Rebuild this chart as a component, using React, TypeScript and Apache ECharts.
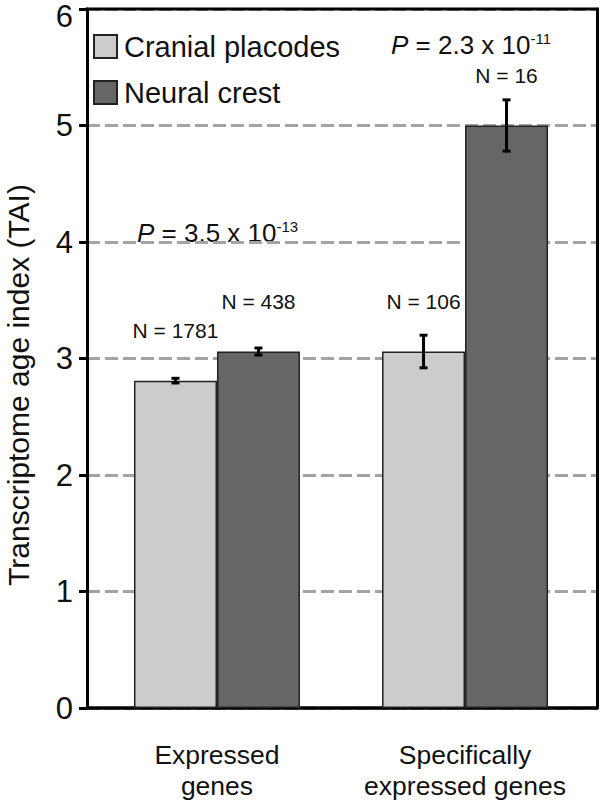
import React, { useEffect, useRef } from "react";
import * as echarts from "echarts";

// ---- data ----
const categories = ["Expressed\ngenes", "Specifically\nexpressed genes"];
const seriesNames = ["Cranial placodes", "Neural crest"];
const placodeMeans = [2.81, 3.06];
const placodeErrors = [0.02, 0.14];
const crestMeans = [3.06, 5.0];
const crestErrors = [0.03, 0.22];
const placodeCounts = [1781, 106];
const crestCounts = [438, 16];
const yTicks = [0, 1, 2, 3, 4, 5, 6];
const pValues = [
  { mantissa: "3.5", exponent: "-13" },
  { mantissa: "2.3", exponent: "-11" },
];

// annotation heights (axis units) where the N labels sit
const placodeLabelLevel = [3.24, 3.49];
const crestLabelLevel = [3.49, 5.43];

// layout
const FONT = "'Liberation Sans', Arial, Helvetica, sans-serif";
const BAR_W = 83;
const LIGHT = "#cccccc";
const DARK = "#666666";
const G_LEFT = 87;
const G_RIGHT = 3;
const G_TOP = 9;
const G_BOTTOM = 89;
const X_MIN = -0.524;
const X_MAX = 1.532;

export default function App() {
  const ref = useRef<HTMLDivElement>(null);

  useEffect(() => {
    if (!ref.current) return;
    const chart = echarts.init(ref.current, null, { renderer: "svg" });

    const catIdx = categories.map((_, i) => i);
    const errData: any[] = [];
    catIdx.forEach((i) => {
      errData.push([i, placodeMeans[i], placodeErrors[i], -1, placodeCounts[i], placodeLabelLevel[i]]);
      errData.push([i, crestMeans[i], crestErrors[i], 1, crestCounts[i], crestLabelLevel[i]]);
    });

    const pText = (p: { mantissa: string; exponent: string }) =>
      `{i|P}{m| = ${p.mantissa} x 10}{s|${p.exponent}}`;
    const pRich = {
      i: { fontStyle: "italic", fontSize: 26, fontFamily: FONT, fill: "#111", lineHeight: 28 },
      m: { fontSize: 26, fontFamily: FONT, fill: "#111", lineHeight: 28 },
      s: { fontSize: 15, fontFamily: FONT, fill: "#111", verticalAlign: "top", lineHeight: 28 },
    };
    const yMax = yTicks[yTicks.length - 1];

    chart.setOption({
      animation: false,
      backgroundColor: "#ffffff",
      grid: { left: G_LEFT, right: G_RIGHT, top: G_TOP, bottom: G_BOTTOM, containLabel: false },
      legend: {
        data: seriesNames,
        orient: "vertical",
        left: 88,
        top: 27,
        padding: 5,
        itemWidth: 23,
        itemHeight: 23,
        itemGap: 17,
        icon: "rect",
        textStyle: { fontSize: 29, fontFamily: FONT, color: "#111", lineHeight: 28, padding: [0, 0, 0, 2] },
      },
      xAxis: {
        type: "value",
        min: X_MIN,
        max: X_MAX,
        axisLine: { show: true, onZero: false, lineStyle: { color: "#000", width: 3.5 } },
        axisTick: { show: false },
        splitLine: { show: false },
        axisLabel: {
          customValues: catIdx,
          formatter: (v: number) => categories[Math.round(v)] ?? "",
          fontSize: 26.5,
          fontFamily: FONT,
          color: "#111",
          lineHeight: 31,
          margin: 31,
        },
      },
      yAxis: [
        {
          type: "value",
          min: yTicks[0],
          max: yMax,
          interval: 1,
          axisLine: { show: true, onZero: false, lineStyle: { color: "#000", width: 3 } },
          axisTick: { show: true, length: 8, lineStyle: { color: "#000", width: 3 } },
          axisLabel: {
            fontSize: 31,
            fontFamily: FONT,
            color: "#111",
            margin: 14,
            formatter: (v: number) => (v === yMax ? "" : `${v}`),
          },
          splitLine: { show: true, lineStyle: { color: "#a3a3a3", width: 3, type: [13, 5] } },
        },
        {
          type: "value",
          position: "right",
          min: yTicks[0],
          max: yMax,
          interval: 1,
          axisLine: { show: true, onZero: false, lineStyle: { color: "#000", width: 3 } },
          axisTick: { show: false },
          axisLabel: { show: false },
          splitLine: { show: false },
        },
      ],
      series: [
        {
          name: seriesNames[0],
          type: "bar",
          data: catIdx.map((i) => [i, placodeMeans[i]]),
          barWidth: BAR_W,
          barGap: "0%",
          itemStyle: { color: LIGHT, borderColor: "#222", borderWidth: 1.5 },
          z: 2,
        },
        {
          name: seriesNames[1],
          type: "bar",
          data: catIdx.map((i) => [i, crestMeans[i]]),
          barWidth: BAR_W,
          barGap: "0%",
          itemStyle: { color: DARK, borderColor: "#222", borderWidth: 1.5 },
          z: 2,
        },
        {
          type: "custom",
          name: "errors",
          z: 5,
          data: errData,
          renderItem: (params: any, api: any) => {
            const cat = api.value(0);
            const mean = api.value(1);
            const err = api.value(2);
            const side = api.value(3);
            const n = api.value(4);
            const level = api.value(5);
            const center = api.coord([cat, mean]);
            const x = center[0] + (side * BAR_W) / 2;
            const yHi = api.coord([cat, mean + err])[1];
            const yLo = api.coord([cat, mean - err])[1];
            const yLab = api.coord([cat, level])[1];
            const cap = 4;
            const ls = { stroke: "#000", lineWidth: 3 };
            return {
              type: "group",
              children: [
                { type: "line", shape: { x1: x, y1: yHi, x2: x, y2: yLo }, style: ls },
                { type: "line", shape: { x1: x - cap, y1: yHi, x2: x + cap, y2: yHi }, style: ls },
                { type: "line", shape: { x1: x - cap, y1: yLo, x2: x + cap, y2: yLo }, style: ls },
                {
                  type: "text",
                  x: x,
                  y: yLab,
                  style: {
                    text: `N = ${n}`,
                    fontSize: 21,
                    fontFamily: FONT,
                    fill: "#111",
                    align: "center",
                    verticalAlign: "middle",
                  },
                },
              ],
            };
          },
        },
      ],
      graphic: [
        {
          type: "line",
          z: 100,
          shape: { x1: G_LEFT - 1.5, y1: G_TOP, x2: 600 - G_RIGHT + 1.5, y2: G_TOP },
          style: { stroke: "#000", lineWidth: 3 },
        },
        {
          type: "text",
          x: G_LEFT - 14,
          y: 16,
          style: {
            text: String(yMax),
            fontSize: 31,
            lineHeight: 22,
            fontFamily: FONT,
            fill: "#111",
            align: "right",
            verticalAlign: "middle",
          },
        },
        {
          type: "text",
          rotation: Math.PI / 2,
          x: 18,
          y: 385,
          style: {
            text: "Transcriptome age index (TAI)",
            fontSize: 30,
            fontFamily: FONT,
            fill: "#111",
            align: "center",
            verticalAlign: "middle",
          },
        },
        {
          type: "text",
          x: 137,
          y: 233,
          style: { text: pText(pValues[0]), rich: pRich, align: "left", verticalAlign: "middle" },
        },
        {
          type: "text",
          x: 391,
          y: 45,
          style: { text: pText(pValues[1]), rich: pRich, align: "left", verticalAlign: "middle" },
        },
      ],
    });

    return () => chart.dispose();
  }, []);

  return (
    <div
      ref={ref}
      style={{ position: "absolute", left: 0, top: 0, width: 600, height: 801 }}
    />
  );
}
